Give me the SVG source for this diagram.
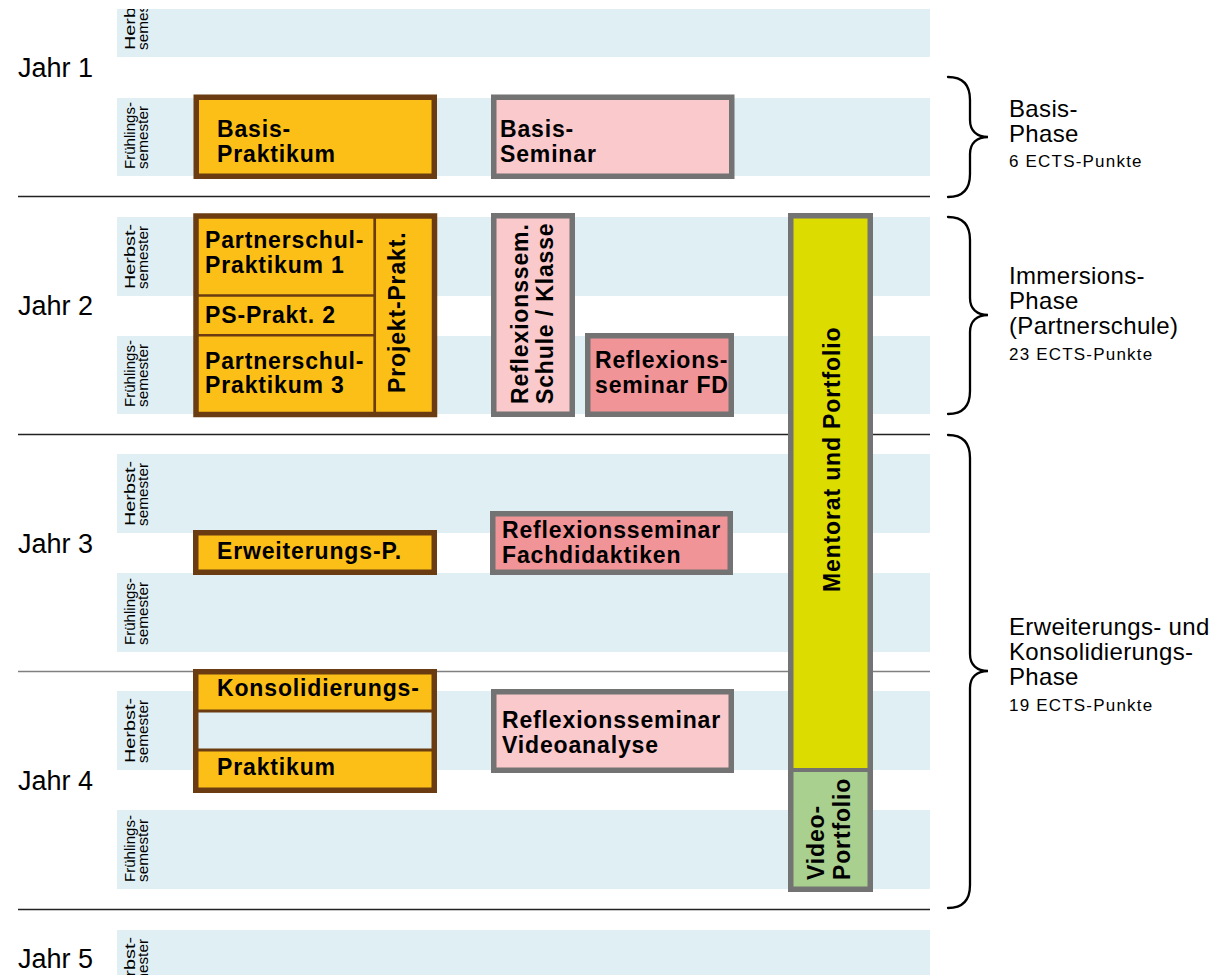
<svg xmlns="http://www.w3.org/2000/svg" width="1232" height="975" viewBox="0 0 1232 975">
<style>
text{font-family:"Liberation Sans",Arial,sans-serif;fill:#000}
.band{fill:#dfeff4}
.sem{font-size:15px}
.jahr{font-size:27px}
.b{font-size:23px;font-weight:bold;letter-spacing:0.85px}
.ph{font-size:24px;letter-spacing:0.35px}
.ects{font-size:17px;letter-spacing:1.2px}
.yl{fill:#fcbf17}
.br{fill:#6b3c11}
.boxb{fill:#fcbf17;stroke:#6b3c11;stroke-width:5.5}
.boxp{fill:#f9c9cc;stroke:#737373;stroke-width:5.5}
.boxd{fill:#f19498;stroke:#737373;stroke-width:5.5}
.sep{stroke:#222;stroke-width:1.6}
.brace{fill:none;stroke:#000;stroke-width:2.3;stroke-linecap:round}
</style>
<defs>
<clipPath id="topclip"><rect x="0" y="9" width="1232" height="966"/></clipPath>
</defs>
<rect width="1232" height="975" fill="#fff"/>
<g id="bands">
<rect class="band" x="117" y="9" width="813" height="48"/>
<rect class="band" x="117" y="98" width="813" height="78"/>
<rect class="band" x="117" y="217" width="813" height="79"/>
<rect class="band" x="117" y="336" width="813" height="78"/>
<rect class="band" x="117" y="454" width="813" height="79"/>
<rect class="band" x="117" y="573" width="813" height="79"/>
<rect class="band" x="117" y="691" width="813" height="79"/>
<rect class="band" x="117" y="810" width="813" height="79"/>
<rect class="band" x="117" y="930" width="813" height="45"/>
</g>
<g id="semester-labels" class="sem">
<g clip-path="url(#topclip)">
<text transform="translate(135,50) rotate(-90)" textLength="65" lengthAdjust="spacingAndGlyphs">Herbst-</text>
<text transform="translate(147.5,50) rotate(-90)" textLength="63" lengthAdjust="spacingAndGlyphs">semester</text>
</g>
<text transform="translate(135,169) rotate(-90)" textLength="67" lengthAdjust="spacingAndGlyphs">Frühlings-</text>
<text transform="translate(147.5,169) rotate(-90)" textLength="63" lengthAdjust="spacingAndGlyphs">semester</text>
<text transform="translate(135,289) rotate(-90)" textLength="65" lengthAdjust="spacingAndGlyphs">Herbst-</text>
<text transform="translate(147.5,289) rotate(-90)" textLength="63" lengthAdjust="spacingAndGlyphs">semester</text>
<text transform="translate(135,407) rotate(-90)" textLength="67" lengthAdjust="spacingAndGlyphs">Frühlings-</text>
<text transform="translate(147.5,407) rotate(-90)" textLength="63" lengthAdjust="spacingAndGlyphs">semester</text>
<text transform="translate(135,526) rotate(-90)" textLength="65" lengthAdjust="spacingAndGlyphs">Herbst-</text>
<text transform="translate(147.5,526) rotate(-90)" textLength="63" lengthAdjust="spacingAndGlyphs">semester</text>
<text transform="translate(135,645) rotate(-90)" textLength="67" lengthAdjust="spacingAndGlyphs">Frühlings-</text>
<text transform="translate(147.5,645) rotate(-90)" textLength="63" lengthAdjust="spacingAndGlyphs">semester</text>
<text transform="translate(135,763) rotate(-90)" textLength="65" lengthAdjust="spacingAndGlyphs">Herbst-</text>
<text transform="translate(147.5,763) rotate(-90)" textLength="63" lengthAdjust="spacingAndGlyphs">semester</text>
<text transform="translate(135,882) rotate(-90)" textLength="67" lengthAdjust="spacingAndGlyphs">Frühlings-</text>
<text transform="translate(147.5,882) rotate(-90)" textLength="63" lengthAdjust="spacingAndGlyphs">semester</text>
<text transform="translate(135,1002) rotate(-90)" textLength="65" lengthAdjust="spacingAndGlyphs">Herbst-</text>
<text transform="translate(147.5,1002) rotate(-90)" textLength="63" lengthAdjust="spacingAndGlyphs">semester</text>
</g>
<g id="year-labels" class="jahr">
<text x="18" y="77">Jahr 1</text>
<text x="18" y="315">Jahr 2</text>
<text x="18" y="553">Jahr 3</text>
<text x="18" y="790">Jahr 4</text>
<text x="18" y="968">Jahr 5</text>
</g>
<g id="connectors">
<line class="sep" x1="18" y1="196.5" x2="930" y2="196.5"/>
<line class="sep" x1="18" y1="434.5" x2="930" y2="434.5"/>
<line class="sep" x1="18" y1="671.5" x2="930" y2="671.5" style="stroke:#808080"/>
<line class="sep" x1="18" y1="909.5" x2="930" y2="909.5"/>
<path class="brace" d="M948,77 C964,77 970,86 970,100 V120 C970,131 977,137 988,137 C977,137 970,143 970,154 V174 C970,188 964,197 948,197"/>
<path class="brace" d="M948,217 C964,217 970,226 970,240 V298 C970,309 977,315 988,315 C977,315 970,321 970,332 V391 C970,405 964,414 948,414"/>
<path class="brace" d="M948,435 C964,435 970,444 970,458 V654 C970,665 977,671 988,671 C977,671 970,677 970,688 V885 C970,899 964,908 948,908"/>
</g>
<g id="basis-praktikum">
<rect class="boxb" x="196.25" y="97.25" width="238" height="79"/>
<text class="b" x="217" y="137">Basis-</text>
<text class="b" x="217" y="162">Praktikum</text>
</g>
<g id="basis-seminar">
<rect class="boxp" x="493.75" y="97.25" width="238" height="79"/>
<text class="b" x="500" y="137">Basis-</text>
<text class="b" x="500" y="162">Seminar</text>
</g>
<g id="partnerschul-praktika">
<rect class="boxb" x="196" y="216" width="238.5" height="198.5"/>
<line x1="374.7" y1="216" x2="374.7" y2="414.5" stroke="#6b3c11" stroke-width="2.7"/>
<line x1="196" y1="295.5" x2="374.7" y2="295.5" stroke="#6b3c11" stroke-width="2.5"/>
<line x1="196" y1="335.2" x2="374.7" y2="335.2" stroke="#6b3c11" stroke-width="2.5"/>
<text class="b" x="205" y="248">Partnerschul-</text>
<text class="b" x="205" y="273">Praktikum 1</text>
<text class="b" x="205" y="323">PS-Prakt. 2</text>
<text class="b" x="205" y="369">Partnerschul-</text>
<text class="b" x="205" y="393">Praktikum 3</text>
<text class="b" transform="translate(405,393) rotate(-90)">Projekt-Prakt.</text>
</g>
<g id="reflexionssem-schule">
<rect class="boxp" x="493.75" y="215.75" width="78.5" height="198.5"/>
<text class="b" transform="translate(528,404) rotate(-90)">Reflexionssem.</text>
<text class="b" transform="translate(552.5,404) rotate(-90)">Schule / Klasse</text>
</g>
<g id="reflexionsseminar-fd">
<rect class="boxd" x="587.75" y="335.75" width="143.5" height="78.5"/>
<text class="b" x="595" y="368">Reflexions-</text>
<text class="b" x="595" y="393">seminar FD</text>
</g>
<g id="mentorat-portfolio">
<rect x="788" y="213" width="85" height="679" fill="#737373"/>
<rect x="793.5" y="218.5" width="74" height="549.5" fill="#dcdc00"/>
<rect x="793.5" y="772" width="74" height="114.5" fill="#a9d08e"/>
<text class="b" transform="translate(839.5,592) rotate(-90)">Mentorat und Portfolio</text>
</g>
<g id="video-portfolio">
<text class="b" transform="translate(823.5,880) rotate(-90)">Video-</text>
<text class="b" transform="translate(849.5,880) rotate(-90)">Portfolio</text>
</g>
<g id="erweiterungs-praktikum">
<rect class="boxb" x="195.75" y="532.75" width="238.5" height="39.5"/>
<text class="b" x="217" y="559">Erweiterungs-P.</text>
</g>
<g id="reflexionsseminar-fachdidaktiken">
<rect class="boxd" x="492.75" y="513.75" width="237.5" height="58.5"/>
<text class="b" x="502" y="538">Reflexionsseminar</text>
<text class="b" x="502" y="563">Fachdidaktiken</text>
</g>
<g id="konsolidierungs-praktikum">
<rect class="br" x="193" y="669" width="244" height="124"/>
<rect class="yl" x="198.5" y="674.5" width="233" height="35"/>
<rect class="band" x="198.5" y="712.5" width="233" height="36"/>
<rect class="yl" x="198.5" y="751.5" width="233" height="36"/>
<text class="b" x="217" y="696">Konsolidierungs-</text>
<text class="b" x="217" y="775">Praktikum</text>
</g>
<g id="reflexionsseminar-videoanalyse">
<rect class="boxp" x="493.75" y="691.75" width="237.5" height="78.5"/>
<text class="b" x="502" y="728">Reflexionsseminar</text>
<text class="b" x="502" y="753">Videoanalyse</text>
</g>
<g id="phase-basis">
<text class="ph" x="1009" y="117">Basis-</text>
<text class="ph" x="1009" y="142">Phase</text>
<text class="ects" x="1009" y="167">6 ECTS-Punkte</text>
</g>
<g id="phase-immersion">
<text class="ph" x="1009" y="284">Immersions-</text>
<text class="ph" x="1009" y="309">Phase</text>
<text class="ph" x="1009" y="334">(Partnerschule)</text>
<text class="ects" x="1009" y="360">23 ECTS-Punkte</text>
</g>
<g id="phase-erweiterung">
<text class="ph" x="1009" y="635">Erweiterungs- und</text>
<text class="ph" x="1009" y="660">Konsolidierungs-</text>
<text class="ph" x="1009" y="685">Phase</text>
<text class="ects" x="1009" y="711">19 ECTS-Punkte</text>
</g>
</svg>
